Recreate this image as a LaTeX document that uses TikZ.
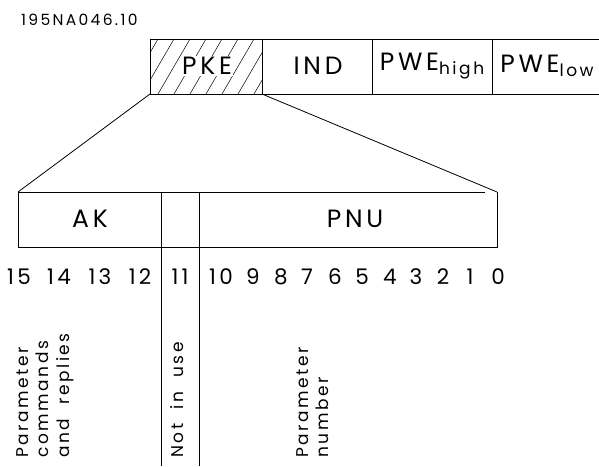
\documentclass[tikz,border=0pt]{standalone}
\usepackage{fontspec}
\setsansfont[LetterSpace=15,WordSpace=2]{Poppins}
\begin{document}
\begin{tikzpicture}[x=1pt,y=-1pt,font=\sffamily,
    frame/.style={line width=0.8pt},
    field/.style={font=\sffamily\fontsize{25}{25}\selectfont, inner sep=1pt},
    bitno/.style={font=\sffamily\fontsize{21.5}{21.5}\selectfont},
    remark/.style={rotate=90, anchor=north west, align=left, inner sep=0pt,
      font=\sffamily\fontsize{17}{20.5}\selectfont}]
  \useasboundingbox (0,0) rectangle (599,466);
  \node[anchor=west, inner sep=0pt, font=\sffamily\fontsize{15.5}{15.5}\selectfont] (drawno) at (21,20) {195NA046.10};
  % telegram fields
  \coordinate (pke nw) at (150,39);
  \coordinate (pke sw) at (150,94);
  \coordinate (pke se) at (262,94);
  \begin{scope}
    \clip (pke nw) rectangle (pke se);
    \foreach \i in {110,126,...,270}
      \draw[line width=0.5pt] (\i,94) -- ++(32,-55);
  \end{scope}
  \draw[frame] (599,39) -- (pke nw) -- (pke sw) -- (599,94);
  \foreach \x in {262,372,492}
    \draw[frame] (\x,39) -- (\x,94);
  \node[field, fill=white] (pke) at (207,66) {PKE};
  \node[field] (ind) at (318,66) {IND};
  \node[field] (pwehigh) at (432,66) {PWE\raisebox{-3.5pt}{\fontsize{17}{17}\selectfont high}};
  \node[field] (pwelow) at (547,66) {PWE\raisebox{-3.5pt}{\fontsize{17}{17}\selectfont low}};
  % PKE bits
  \coordinate (ak nw) at (18,192);
  \coordinate (pnu ne) at (497,192);
  \draw[frame] (pke sw) -- (ak nw);
  \draw[frame] (pke se) -- (pnu ne);
  \draw[frame] (485,192) -- (ak nw) -- (18,247) -- (497,247) -- (pnu ne);
  \draw[frame] (161,192) -- (161,466);
  \draw[frame] (199,192) -- (199,466);
  \node[field] (ak) at (90,219) {AK};
  \node[field] (pnu) at (355,219) {PNU};
  \foreach \n/\x in {15/19,14/59,13/100,12/140,11/180,10/221,9/253,8/281,
      7/307,6/335,5/362,4/390,3/416,2/443,1/470,0/498}
    \node[bitno] (bit\n) at (\x,277) {\n};
  \node[remark] (akrem) at (16,458) {Parameter\\commands\\and replies};
  \node[remark] (unused) at (170,458) {Not in use};
  \node[remark] (pnurem) at (296,458) {Parameter\\number};
\end{tikzpicture}
\end{document}
